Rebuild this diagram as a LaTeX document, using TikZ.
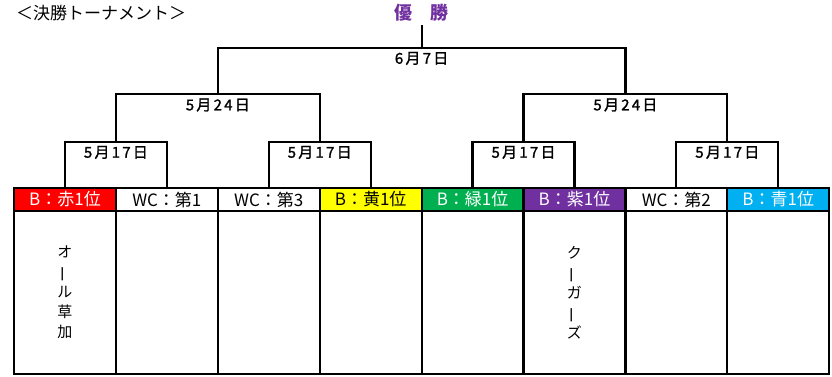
\documentclass[tikz,border=0pt]{standalone}
\usepackage{fontspec}
\usepackage{graphicx}
\setmainfont{Noto Sans CJK JP}
\newfontfamily\datefont[LetterSpace=15, FakeBold=1.5]{Noto Sans CJK JP}
\usetikzlibrary{positioning}
\definecolor{aka}{HTML}{FF0000}
\definecolor{kiiro}{HTML}{FFFF00}
\definecolor{midori}{HTML}{00B050}
\definecolor{murasaki}{HTML}{7030A0}
\definecolor{ao}{HTML}{00B0F0}
\newcommand{\bou}{\rotatebox[origin=c]{90}{\scalebox{1.1}[1]{ー}}}
\tikzset{
    team/.style={draw, line width=2.2pt, minimum width=101.9pt,
    	minimum height=23pt, inner sep=0pt, font=\fontsize{17}{20}\selectfont},
    cell/.style={draw, line width=2.2pt, minimum width=101.9pt,
    	minimum height=163pt, inner sep=0pt},
    date/.style={inner sep=2pt, font=\datefont\fontsize{15}{18}\selectfont},
    tate/.style={align=center, font=\fontsize{15}{20}\selectfont},
    line/.style={line width=2.2pt}
}

\begin{document}
\begin{tikzpicture}[x=1pt, y=-1pt]
  \useasboundingbox (0,0) rectangle (832,376);
  \node (title) [anchor=west, inner sep=0pt, font=\fontsize{17}{20}\selectfont] at (16,13) {＜決勝トーナメント＞};
  \node (win) [text=murasaki, inner sep=3.5pt, font=\fontsize{18}{20}\selectfont\bfseries] at (421.6,13) {優　勝};

  \node (t1) [team, fill=aka, text=white] at (64.95,199.5) {B：赤1位};
  \node (t2) [team] at (166.85,199.5) {WC：第1};
  \node (t3) [team] at (268.75,199.5) {WC：第3};
  \node (t4) [team, fill=kiiro] at (370.65,199.5) {B：黄1位};
  \node (t5) [team, fill=midori, text=white] at (472.55,199.5) {B：緑1位};
  \node (t6) [team, fill=murasaki, text=white] at (574.45,199.5) {B：紫1位};
  \node (t7) [team] at (676.35,199.5) {WC：第2};
  \node (t8) [team, fill=ao, text=white] at (778.25,199.5) {B：青1位};

  \node (b1) [cell] at (64.95,292.5) {};
  \node (b2) [cell] at (166.85,292.5) {};
  \node (b3) [cell] at (268.75,292.5) {};
  \node (b4) [cell] at (370.65,292.5) {};
  \node (b5) [cell] at (472.55,292.5) {};
  \node (b6) [cell] at (574.45,292.5) {};
  \node (b7) [cell] at (676.35,292.5) {};
  \node (b8) [cell] at (778.25,292.5) {};
  \node (n1) [tate] at (b1) {オ\\\bou\\ル\\草\\加};
  \node (n6) [tate] at (b6) {ク\\\bou\\ガ\\\bou\\ズ};

  % 1回戦
  \coordinate (m1) at (115.9,141.7);
  \coordinate (m2) at (319.7,141.7);
  \coordinate (m3) at (523.5,141.7);
  \coordinate (m4) at (727.3,141.7);
  \draw [line] (t1.north) |- (m1) -| (t2.north);
  \draw [line] (t3.north) |- (m2) -| (t4.north);
  \draw [line] (t5.north) |- (m3) -| (t6.north);
  \draw [line] (t7.north) |- (m4) -| (t8.north);
  \node (d1) [date, below=2pt of m1] {5月17日};
  \node (d2) [date, below=2pt of m2] {5月17日};
  \node (d3) [date, below=2pt of m3] {5月17日};
  \node (d4) [date, below=2pt of m4] {5月17日};

  % 準決勝
  \coordinate (s1) at (217.8,94.3);
  \coordinate (s2) at (625.4,94.3);
  \draw [line] (m1) |- (s1) -| (m2);
  \draw [line] (m3) |- (s2) -| (m4);
  \node (e1) [date, below=2pt of s1] {5月24日};
  \node (e2) [date, below=2pt of s2] {5月24日};

  % 決勝
  \coordinate (f) at (421.6,47.7);
  \draw [line] (s1) |- (f) -| (s2);
  \draw [line] (f) -- (win.south);
  \node (g) [date, below=2pt of f] {6月7日};
\end{tikzpicture}
\end{document}
